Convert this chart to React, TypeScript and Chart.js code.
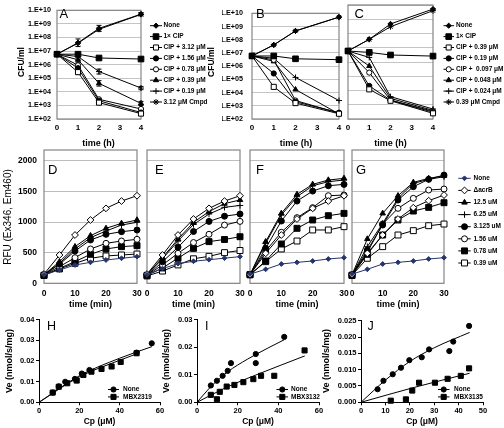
import React, { useEffect, useRef } from "react";
import { Chart, registerables } from "chart.js";
import { drawPoint } from "chart.js/helpers";

Chart.register(...registerables);

// ===================== DATA =====================
// Panels A–C : CFU/ml vs time (h)
const TIME_H = [0, 1, 2, 4];
const HOUR_TICKS = [0, 1, 2, 3, 4];
const CFU_TICKS = [1e2, 1e3, 1e4, 1e5, 1e6, 1e7, 1e8, 1e9, 1e10];
const CFU_TICK_LABELS = ["1.E+02", "1.E+03", "1.E+04", "1.E+05", "1.E+06", "1.E+07", "1.E+08", "1.E+09", "1.E+10"];

const LABELS_AB = ["None", "1× CIP", "CIP + 3.12 μM", "CIP + 1.56 μM", "CIP + 0.78 μM", "CIP + 0.39 μM", "CIP + 0.19 μM", "3.12 μM Cmpd"];
const LABELS_C = ["None", "1× CIP", "CIP + 0.39 μM", "CIP + 0.19 μM", "CIP +  0.097 μM", "CIP + 0.048 μM", "CIP + 0.024 μM", "0.39 μM Cmpd"];

const A_NONE = [5.9e6, 4.1e7, 4.7e8, 5.2e9];
const A_CIP = [5.9e6, 5.9e6, 3.1e6, 2.6e6];
const A_312 = [5.9e6, 2.8e5, 1.6e3, 2.5e2];
const A_156 = [5.9e6, 5.5e5, 2.2e3, 3.0e2];
const A_078 = [5.9e6, 9.0e5, 2.8e3, 5.5e2];
const A_039 = [5.9e6, 2.3e6, 4.2e4, 1.4e3];
const A_019 = [5.9e6, 4.0e6, 3.1e5, 1.9e4];
const A_CMPD = [5.9e6, 3.8e7, 4.0e8, 5.0e9];
// error bars of panel A, in log10 units (half-length)
const A_NONE_ERR = [0.12, 0.28, 0.22, 0.12];
const A_312_ERR = [0, 0.15, 0.12, 0.1];
const A_039_ERR = [0, 0.18, 0.2, 0.15];
const A_019_ERR = [0, 0.2, 0.18, 0.12];

const B_NONE = [5.9e6, 4.1e7, 4.7e8, 5.2e9];
const B_CIP = [5.9e6, 5.9e6, 3.6e6, 3.1e6];
const B_312 = [5.9e6, 2.7e4, 1.6e3, 2.5e2];
const B_156 = [5.9e6, 2.8e5, 2.0e3, 3.0e2];
const B_078 = [5.9e6, 3.0e6, 2.5e3, 2.8e2];
const B_039 = [5.9e6, 2.3e6, 1.7e4, 2.4e2];
const B_019 = [5.9e6, 4.0e6, 1.4e5, 2.5e3];
const B_CMPD = [5.9e6, 4.0e7, 4.6e8, 5.1e9];

const C_NONE = [5.9e6, 3.9e7, 4.7e8, 5.2e9];
const C_CIP = [5.9e6, 4.7e6, 3.1e6, 2.6e6];
const C_039 = [5.9e6, 1.2e4, 1.9e3, 2.5e2];
const C_019 = [5.9e6, 2.1e4, 2.1e3, 3.0e2];
const C_0097 = [5.9e6, 1.8e5, 2.1e3, 3.5e2];
const C_0048 = [5.9e6, 5.2e5, 2.8e3, 4.0e2];
const C_0024 = [5.9e6, 2.1e6, 3.7e3, 5.0e2];
const C_CMPD = [5.9e6, 3.9e7, 3.0e8, 4.0e9];

// Panels D–G : RFU vs time (min)
const TIME_MIN = [0, 5, 10, 15, 20, 25, 30];
const MIN_TICKS = [0, 10, 20, 30];
const RFU_TICKS = [0, 500, 1000, 1500, 2000];
const RFU_MAX = 2175;
const LABELS_RFU = ["None", "ΔacrB", "12.5 uM", "6.25 uM", "3.125 uM", "1.56 uM", "0.78 uM", "0.39 uM"];

const D_NONE = [140, 217, 299, 342, 380, 408, 435];
const D_ACRB = [150, 462, 788, 1033, 1223, 1342, 1429];
const D_125 = [140, 353, 598, 777, 897, 978, 1033];
const D_625 = [140, 326, 560, 745, 853, 951, 995];
const D_3125 = [140, 310, 527, 707, 799, 842, 870];
const D_156 = [140, 272, 418, 560, 652, 690, 717];
const D_078 = [130, 245, 353, 473, 560, 598, 614];
const D_039 = [130, 234, 326, 408, 446, 462, 478];

const E_NONE = [140, 240, 320, 360, 385, 410, 435];
const E_ACRB = [150, 462, 788, 1049, 1223, 1342, 1429];
const E_125 = [140, 420, 720, 995, 1170, 1300, 1360];
const E_625 = [140, 400, 690, 960, 1130, 1240, 1270];
const E_3125 = [130, 350, 590, 845, 1010, 1095, 1130];
const E_156 = [130, 300, 490, 665, 800, 950, 1010];
const E_078 = [130, 250, 410, 570, 680, 715, 760];
const E_039 = [120, 200, 300, 400, 440, 500, 535];

const F_NONE = [150, 228, 315, 342, 364, 397, 418];
const F_ACRB = [140, 489, 788, 1049, 1223, 1342, 1429];
const F_125 = [140, 679, 1141, 1451, 1614, 1685, 1712];
const F_625 = [140, 652, 1114, 1413, 1592, 1658, 1685];
const F_3125 = [140, 571, 1016, 1342, 1505, 1592, 1614];
const F_156 = [140, 527, 832, 1071, 1234, 1429, 1440];
const F_078 = [140, 364, 641, 897, 1033, 1103, 1141];
const F_039 = [140, 353, 560, 690, 870, 870, 924];

const G_NONE = [150, 228, 315, 342, 364, 397, 418];
const G_ACRB = [140, 489, 788, 1049, 1234, 1348, 1440];
const G_125 = [140, 723, 1141, 1429, 1647, 1712, 1756];
const G_625 = [140, 598, 978, 1386, 1630, 1696, 1739];
const G_3125 = [140, 543, 951, 1359, 1576, 1696, 1766];
const G_156 = [140, 505, 967, 1223, 1386, 1522, 1538];
const G_078 = [130, 473, 788, 1033, 1179, 1239, 1315];
const G_039 = [130, 408, 598, 788, 859, 940, 967];

// Panels H–J : Ve vs Cp
const CP_TICKS_60 = [0, 20, 40, 60];
const CP_TICKS_50 = [0, 10, 20, 30, 40, 50];
const VE_TICKS_H = [0, 0.01, 0.02, 0.03, 0.04];
const VE_LABELS_H = ["0.00", "0.01", "0.02", "0.03", "0.04"];
const VE_TICKS_I = [0, 0.01, 0.02, 0.03];
const VE_LABELS_I = ["0.00", "0.01", "0.02", "0.03"];
const VE_TICKS_J = [0, 0.005, 0.01, 0.015, 0.02, 0.025];
const VE_LABELS_J = ["0.000", "0.005", "0.010", "0.015", "0.020", "0.025"];

const H_NONE_CP = [6.8, 9.8, 13, 17.8, 21.2, 25, 48.4, 55.9];
const H_NONE_VE = [0.0047, 0.0077, 0.0099, 0.0113, 0.0139, 0.0156, 0.024, 0.0285];
const H_MBX_CP = [6.8, 9.8, 14, 18.7, 22, 26, 31, 36, 40.5, 48.4];
const H_MBX_VE = [0.0047, 0.0075, 0.0092, 0.0105, 0.0132, 0.0148, 0.0161, 0.0173, 0.0195, 0.0237];
const H_FIT_NONE_CP = [0, 20, 40, 56];
const H_FIT_NONE_VE = [0, 0.0128, 0.0213, 0.0269];
const H_FIT_MBX_CP = [0, 20, 40, 49];
const H_FIT_MBX_VE = [0, 0.0123, 0.0203, 0.0236];

const I_NONE_CP = [6.8, 9.8, 12.6, 15.1, 16.7, 28.9, 28.9, 42.9];
const I_NONE_VE = [0.0061, 0.0078, 0.0096, 0.0114, 0.0142, 0.0175, 0.0142, 0.0237];
const I_MBX_CP = [6.8, 9.8, 11.2, 14.6, 18.4, 22.8, 27.7, 31.5, 38, 52.9];
const I_MBX_VE = [0.0027, 0.0011, 0.0038, 0.0057, 0.0063, 0.0073, 0.0084, 0.0096, 0.0096, 0.0188];
const I_FIT_NONE_CP = [0, 7, 15, 25, 35, 43];
const I_FIT_NONE_VE = [0, 0.0058, 0.011, 0.0157, 0.0197, 0.0227];
const I_FIT_MBX_CP = [0, 15, 30, 53];
const I_FIT_MBX_VE = [0, 0.0056, 0.0102, 0.0168];

const J_NONE_CP = [6.8, 9.2, 13, 16.4, 19.8, 24.9, 27.9, 36.2, 37.8, 44.3];
const J_NONE_VE = [0.004, 0.0066, 0.0086, 0.0106, 0.0129, 0.0138, 0.0162, 0.0157, 0.0186, 0.0234];
const J_MBX_CP = [12.2, 18.4, 21, 23.8, 30.3, 35.5, 40.9, 44.3];
const J_MBX_VE = [0.0005, 0.0009, 0.0036, 0.006, 0.006, 0.0072, 0.0081, 0.0104];
const J_FIT_NONE_CP = [0, 10, 20, 30, 44.5];
const J_FIT_NONE_VE = [0, 0.0068, 0.0125, 0.0167, 0.0214];
const J_FIT_MBX_CP = [0, 22, 44.5];
const J_FIT_MBX_VE = [0, 0.0046, 0.0089];

// ===================== STYLE =====================
const FONT = "'Liberation Sans', Arial, Helvetica, sans-serif";
const W = 504;
const H = 428;
const YW = 30;
const XH = 20;
const NAVY = "#25346b";

type Mk = { ps: string; r: number; fill: boolean; color?: string };
const MK_ABC: Mk[] = [
  { ps: "rectRot", r: 2.6, fill: true },
  { ps: "rect", r: 4, fill: true },
  { ps: "rect", r: 3.6, fill: false },
  { ps: "circle", r: 2.6, fill: true },
  { ps: "circle", r: 2.6, fill: false },
  { ps: "triangle", r: 3, fill: true },
  { ps: "cross", r: 3, fill: false },
  { ps: "star", r: 3, fill: false },
];
const MK_RFU: Mk[] = [
  { ps: "rectRot", r: 2.4, fill: true, color: NAVY },
  { ps: "rectRot", r: 3.4, fill: false },
  { ps: "triangle", r: 3.2, fill: true },
  { ps: "cross", r: 3.2, fill: false },
  { ps: "circle", r: 3, fill: true },
  { ps: "circle", r: 3, fill: false },
  { ps: "rect", r: 4.2, fill: true },
  { ps: "rect", r: 4.2, fill: false },
];
const MK_CIRC: Mk = { ps: "circle", r: 2.6, fill: true };
const MK_SQ: Mk = { ps: "rect", r: 3.6, fill: true };

type Area = { l: number; r: number; t: number; b: number };
type Txt = { text: string; x: number; y: number; size: number; bold?: boolean; rot?: boolean; align?: CanvasTextAlign };
type Lg = { x0: number; x1: number; xm: number; xt: number; y0: number; dy: number; size: number; idx: number[] };
type Err = { ds: number; err: number[] };
type Spec = {
  kind: "cfu" | "rfu" | "ve";
  area: Area;
  datasets: any[];
  showY: boolean;
  yPad?: number;
  texts: Txt[];
  legend?: Lg;
  errs?: Err[];
  xMax?: number;
  xTicks?: number[];
  yMax?: number;
  yTicks?: number[];
  yLabels?: string[];
};

function series(label: string, xs: number[], ys: number[], mk: Mk, showLine = true) {
  const c = mk.color || "#000";
  return {
    label,
    data: xs.map((x, i) => ({ x, y: ys[i] })),
    borderColor: c,
    borderWidth: 1,
    showLine,
    pointStyle: mk.ps,
    pointRadius: mk.r,
    pointBackgroundColor: mk.fill ? c : "#fff",
    pointBorderColor: c,
    pointBorderWidth: 1,
    clip: false,
    tension: 0,
  };
}

function fit(xs: number[], ys: number[]) {
  return {
    label: "fit",
    data: xs.map((x, i) => ({ x, y: ys[i] })),
    borderColor: "#000",
    borderWidth: 1,
    pointRadius: 0,
    cubicInterpolationMode: "monotone",
    clip: false,
  };
}

function drawText(ctx: CanvasRenderingContext2D, t: Txt) {
  ctx.save();
  ctx.fillStyle = "#000";
  ctx.font = `${t.bold ? "bold " : ""}${t.size}px ${FONT}`;
  ctx.textAlign = t.align || "center";
  ctx.textBaseline = "middle";
  ctx.translate(t.x, t.y);
  if (t.rot) ctx.rotate(-Math.PI / 2);
  ctx.fillText(t.text, 0, 0);
  ctx.restore();
}

function overlay(spec: Spec) {
  return {
    id: "overlay",
    beforeDatasetsDraw(chart: any) {
      if (spec.kind === "ve") return;
      const a = chart.chartArea;
      const ctx = chart.ctx;
      ctx.save();
      ctx.strokeStyle = "#858585";
      ctx.lineWidth = 1.2;
      ctx.strokeRect(a.left, a.top, a.right - a.left, a.bottom - a.top);
      ctx.restore();
      // error bars (drawn under the markers)
      if (spec.errs) {
        const xs = chart.scales.x;
        const ys = chart.scales.y;
        ctx.save();
        ctx.strokeStyle = "#000";
        ctx.lineWidth = 1;
        spec.errs.forEach((e) => {
          const pts = chart.data.datasets[e.ds].data;
          pts.forEach((p: any, i: number) => {
            const d = e.err[i];
            if (!d) return;
            const px = xs.getPixelForValue(p.x);
            const yHi = ys.getPixelForValue(p.y * Math.pow(10, d));
            const yLo = ys.getPixelForValue(p.y / Math.pow(10, d));
            ctx.beginPath();
            ctx.moveTo(px, yHi);
            ctx.lineTo(px, yLo);
            ctx.moveTo(px - 2.5, yHi);
            ctx.lineTo(px + 2.5, yHi);
            ctx.moveTo(px - 2.5, yLo);
            ctx.lineTo(px + 2.5, yLo);
            ctx.stroke();
          });
        });
        ctx.restore();
      }
    },
    afterDraw(chart: any) {
      const ctx = chart.ctx;
      spec.texts.forEach((t) => drawText(ctx, t));
      const lg = spec.legend;
      if (!lg) return;
      lg.idx.forEach((di, k) => {
        const ds = chart.data.datasets[di];
        const y = lg.y0 + k * lg.dy;
        ctx.save();
        ctx.lineWidth = 1;
        ctx.strokeStyle = ds.borderColor;
        ctx.beginPath();
        ctx.moveTo(lg.x0, y);
        ctx.lineTo(lg.x1, y);
        ctx.stroke();
        ctx.fillStyle = ds.pointBackgroundColor;
        ctx.strokeStyle = ds.pointBorderColor;
        drawPoint(ctx, { pointStyle: ds.pointStyle, radius: ds.pointRadius, borderWidth: 1, rotation: 0 } as any, lg.xm, y);
        ctx.fillStyle = "#000";
        ctx.font = `bold ${lg.size}px ${FONT}`;
        ctx.textAlign = "left";
        ctx.textBaseline = "middle";
        ctx.fillText(ds.label, lg.xt, y);
        ctx.restore();
      });
    },
  };
}

function buildConfig(spec: Spec): any {
  const a = spec.area;
  const font = (size: number) => ({ family: FONT, size, weight: "bold" as const });
  const fixY = (s: any) => { s.width = YW; };
  const fixX = (s: any) => { s.height = XH; };
  let scales: any;
  if (spec.kind === "cfu") {
    scales = {
      x: {
        type: "linear", min: 0, max: 4,
        afterBuildTicks: (s: any) => { s.ticks = HOUR_TICKS.map((v) => ({ value: v })); },
        ticks: { callback: (v: any) => String(v), font: font(8), color: "#000", padding: 4.2, maxRotation: 0, autoSkip: false },
        grid: { display: false, drawTicks: false }, border: { display: false }, afterFit: fixX,
      },
      y: {
        type: "logarithmic", min: 1e2, max: 1e10,
        afterBuildTicks: (s: any) => { s.ticks = CFU_TICKS.map((v) => ({ value: v })); },
        ticks: { display: spec.showY, callback: (_v: any, i: number) => CFU_TICK_LABELS[i], font: font(7.2), color: "#000", padding: spec.yPad ?? 6, autoSkip: false },
        grid: { color: "#c4c4c4", lineWidth: 1, drawTicks: false }, border: { display: false }, afterFit: fixY,
      },
    };
  } else if (spec.kind === "rfu") {
    scales = {
      x: {
        type: "linear", min: 0, max: 30,
        afterBuildTicks: (s: any) => { s.ticks = MIN_TICKS.map((v) => ({ value: v })); },
        ticks: { callback: (v: any) => String(v), font: font(8.5), color: "#000", padding: 4.9, maxRotation: 0, autoSkip: false },
        grid: { display: false, drawTicks: false }, border: { display: false }, afterFit: fixX,
      },
      y: {
        type: "linear", min: 0, max: RFU_MAX,
        afterBuildTicks: (s: any) => { s.ticks = RFU_TICKS.map((v) => ({ value: v })); },
        ticks: { display: spec.showY, callback: (v: any) => String(v), font: font(8.5), color: "#000", padding: 7, autoSkip: false },
        grid: { color: "#bdbdbd", lineWidth: 1, drawTicks: false }, border: { display: false }, afterFit: fixY,
      },
    };
  } else {
    const xt = spec.xTicks!;
    const yt = spec.yTicks!;
    const yl = spec.yLabels!;
    scales = {
      x: {
        type: "linear", min: 0, max: spec.xMax,
        afterBuildTicks: (s: any) => { s.ticks = xt.map((v) => ({ value: v })); },
        ticks: { callback: (v: any) => String(v), font: font(7.5), color: "#000", padding: 1, maxRotation: 0, autoSkip: false },
        grid: { display: true, drawOnChartArea: false, drawTicks: true, tickLength: 3, color: "#000" },
        border: { display: true, color: "#000", width: 1 }, afterFit: fixX,
      },
      y: {
        type: "linear", min: 0, max: spec.yMax,
        afterBuildTicks: (s: any) => { s.ticks = yt.map((v) => ({ value: v })); },
        ticks: { callback: (_v: any, i: number) => yl[i], font: font(7.5), color: "#000", padding: 1.5, autoSkip: false },
        grid: { display: true, drawOnChartArea: false, drawTicks: true, tickLength: 3, color: "#000" },
        border: { display: true, color: "#000", width: 1 }, afterFit: fixY,
      },
    };
  }
  return {
    type: "line",
    data: { datasets: spec.datasets },
    options: {
      animation: false,
      responsive: false,
      events: [],
      layout: { padding: { left: a.l - YW, right: W - a.r, top: a.t, bottom: H - a.b - XH } },
      plugins: { legend: { display: false }, tooltip: { enabled: false }, title: { display: false } },
      scales,
    },
    plugins: [overlay(spec)],
  };
}

// ===================== PANELS =====================
const cfuSets = (labels: string[], arrs: number[][]) => arrs.map((d, i) => series(labels[i], TIME_H, d, MK_ABC[i]));
const rfuSets = (arrs: number[][]) => arrs.map((d, i) => series(LABELS_RFU[i], TIME_MIN, d, MK_RFU[i]));
const ALL8 = [0, 1, 2, 3, 4, 5, 6, 7];

const SPECS: Spec[] = [
  {
    kind: "cfu", area: { l: 57, r: 141, t: 5, b: 119 }, showY: true, yPad: 6,
    datasets: cfuSets(LABELS_AB, [A_NONE, A_CIP, A_312, A_156, A_078, A_039, A_019, A_CMPD]),
    errs: [
      { ds: 0, err: A_NONE_ERR },
      { ds: 2, err: A_312_ERR },
      { ds: 5, err: A_039_ERR },
      { ds: 6, err: A_019_ERR },
    ],
    texts: [
      { text: "A", x: 59.5, y: 14.5, size: 13, align: "left" },
      { text: "CFU/ml", x: 21.5, y: 62, size: 8.5, bold: true, rot: true },
      { text: "time (h)", x: 98.5, y: 143.5, size: 9, bold: true },
    ],
    legend: { x0: 150, x1: 162, xm: 156, xt: 163.5, y0: 25.7, dy: 10.9, size: 6.5, idx: ALL8 },
  },
  {
    kind: "cfu", area: { l: 252, r: 339, t: 5, b: 119 }, showY: true, yPad: 9,
    datasets: cfuSets(LABELS_AB, [B_NONE, B_CIP, B_312, B_156, B_078, B_039, B_019, B_CMPD]),
    texts: [
      { text: "B", x: 256, y: 14.5, size: 13, align: "left" },
      { text: "CFU/ml", x: 211.5, y: 62, size: 8.5, bold: true, rot: true },
      { text: "time (h)", x: 296, y: 143.5, size: 9, bold: true },
    ],
  },
  {
    kind: "cfu", area: { l: 348, r: 433, t: 5, b: 119 }, showY: false,
    datasets: cfuSets(LABELS_C, [C_NONE, C_CIP, C_039, C_019, C_0097, C_0048, C_0024, C_CMPD]),
    texts: [
      { text: "C", x: 354.5, y: 14.5, size: 13, align: "left" },
      { text: "time (h)", x: 390.5, y: 143.5, size: 9, bold: true },
    ],
    legend: { x0: 443.5, x1: 454, xm: 448.7, xt: 456, y0: 25.7, dy: 10.9, size: 6.5, idx: ALL8 },
  },
  {
    kind: "rfu", area: { l: 44, r: 137, t: 150, b: 283.3 }, showY: true,
    datasets: rfuSets([D_NONE, D_ACRB, D_125, D_625, D_3125, D_156, D_078, D_039]),
    texts: [
      { text: "D", x: 48, y: 170, size: 13, align: "left" },
      { text: "RFU (Ex346, Em460)", x: 8.7, y: 217, size: 10, rot: true },
      { text: "time (min)", x: 90.5, y: 305, size: 9, bold: true },
    ],
  },
  {
    kind: "rfu", area: { l: 147, r: 240, t: 150, b: 283.3 }, showY: false,
    datasets: rfuSets([E_NONE, E_ACRB, E_125, E_625, E_3125, E_156, E_078, E_039]),
    texts: [
      { text: "E", x: 155, y: 170, size: 13, align: "left" },
      { text: "time (min)", x: 193.5, y: 305, size: 9, bold: true },
    ],
  },
  {
    kind: "rfu", area: { l: 250, r: 344, t: 150, b: 283.3 }, showY: false,
    datasets: rfuSets([F_NONE, F_ACRB, F_125, F_625, F_3125, F_156, F_078, F_039]),
    texts: [
      { text: "F", x: 256, y: 170, size: 13, align: "left" },
      { text: "time (min)", x: 297, y: 305, size: 9, bold: true },
    ],
  },
  {
    kind: "rfu", area: { l: 352, r: 444, t: 150, b: 283.3 }, showY: false,
    datasets: rfuSets([G_NONE, G_ACRB, G_125, G_625, G_3125, G_156, G_078, G_039]),
    texts: [
      { text: "G", x: 356, y: 170, size: 13, align: "left" },
      { text: "time (min)", x: 398, y: 305, size: 9, bold: true },
    ],
    legend: { x0: 458.3, x1: 470.7, xm: 464.5, xt: 473.5, y0: 178.3, dy: 12.1, size: 6.5, idx: ALL8 },
  },
  {
    kind: "ve", area: { l: 39, r: 160, t: 319.5, b: 402.3 }, showY: true,
    xMax: 60, xTicks: CP_TICKS_60, yMax: 0.04, yTicks: VE_TICKS_H, yLabels: VE_LABELS_H,
    datasets: [
      series("None", H_NONE_CP, H_NONE_VE, MK_CIRC, false),
      series("MBX2319", H_MBX_CP, H_MBX_VE, MK_SQ, false),
      fit(H_FIT_NONE_CP, H_FIT_NONE_VE),
      fit(H_FIT_MBX_CP, H_FIT_MBX_VE),
    ],
    texts: [
      { text: "H", x: 47, y: 326.5, size: 12.5, align: "left" },
      { text: "Ve (nmol/s/mg)", x: 9.5, y: 361, size: 9, bold: true, rot: true },
      { text: "Cp (μM)", x: 99.5, y: 421.7, size: 8.5, bold: true },
    ],
    legend: { x0: 108, x1: 119, xm: 113.5, xt: 123, y0: 389.5, dy: 7.4, size: 6.5, idx: [0, 1] },
  },
  {
    kind: "ve", area: { l: 197, r: 319, t: 319.5, b: 402.3 }, showY: true,
    xMax: 60, xTicks: CP_TICKS_60, yMax: 0.03, yTicks: VE_TICKS_I, yLabels: VE_LABELS_I,
    datasets: [
      series("None", I_NONE_CP, I_NONE_VE, MK_CIRC, false),
      series("MBX3132", I_MBX_CP, I_MBX_VE, MK_SQ, false),
      fit(I_FIT_NONE_CP, I_FIT_NONE_VE),
      fit(I_FIT_MBX_CP, I_FIT_MBX_VE),
    ],
    texts: [
      { text: "I", x: 205, y: 326.5, size: 12.5, align: "left" },
      { text: "Ve (nmol/s/mg)", x: 167, y: 361, size: 9, bold: true, rot: true },
      { text: "Cp (μM)", x: 258, y: 421.7, size: 8.5, bold: true },
    ],
    legend: { x0: 276.5, x1: 288, xm: 282.3, xt: 291, y0: 389.5, dy: 7.4, size: 6.5, idx: [0, 1] },
  },
  {
    kind: "ve", area: { l: 361, r: 483, t: 320.7, b: 402.3 }, showY: true,
    xMax: 50, xTicks: CP_TICKS_50, yMax: 0.025, yTicks: VE_TICKS_J, yLabels: VE_LABELS_J,
    datasets: [
      series("None", J_NONE_CP, J_NONE_VE, MK_CIRC, false),
      series("MBX3135", J_MBX_CP, J_MBX_VE, MK_SQ, false),
      fit(J_FIT_NONE_CP, J_FIT_NONE_VE),
      fit(J_FIT_MBX_CP, J_FIT_MBX_VE),
    ],
    texts: [
      { text: "J", x: 367.5, y: 326.5, size: 12.5, align: "left" },
      { text: "Ve (nmol/s/mg)", x: 327, y: 361, size: 9, bold: true, rot: true },
      { text: "Cp (μM)", x: 422, y: 421.7, size: 8.5, bold: true },
    ],
    legend: { x0: 438, x1: 449.5, xm: 443.7, xt: 454, y0: 389.5, dy: 7.4, size: 6.5, idx: [0, 1] },
  },
];

function Panel({ spec }: { spec: Spec }) {
  const ref = useRef<HTMLCanvasElement>(null);
  useEffect(() => {
    const chart = new Chart(ref.current as HTMLCanvasElement, buildConfig(spec));
    return () => chart.destroy();
  }, [spec]);
  return (
    <canvas
      ref={ref}
      width={W}
      height={H}
      style={{ position: "absolute", left: 0, top: 0, width: W, height: H }}
    />
  );
}

export default function App() {
  return (
    <div style={{ position: "absolute", left: 0, top: 0, width: W, height: H, background: "#fff", overflow: "hidden" }}>
      {SPECS.map((s, i) => (
        <Panel key={i} spec={s} />
      ))}
    </div>
  );
}
